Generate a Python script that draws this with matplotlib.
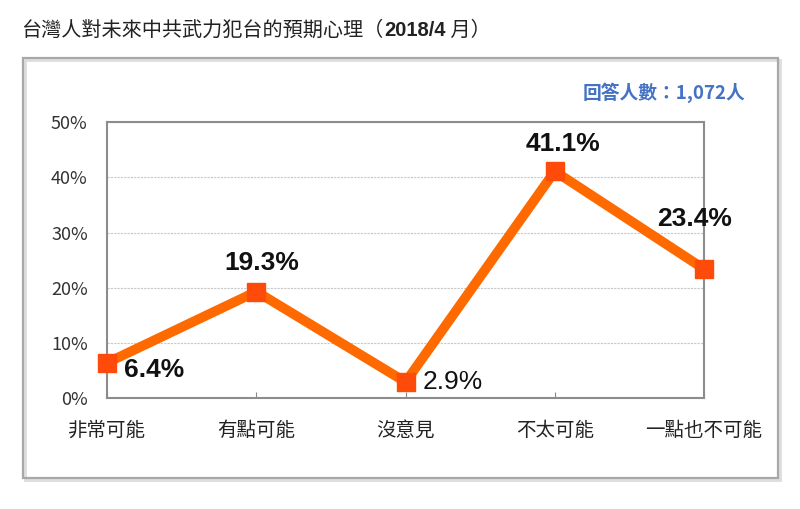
import matplotlib
matplotlib.use('Agg')
import matplotlib.pyplot as plt
from matplotlib.patches import Rectangle

# Data
categories = ['非常可能', '有點可能', '沒意見', '不太可能', '一點也不可能']
values = [6.4, 19.3, 2.9, 41.1, 23.4]
yticks = [0, 10, 20, 30, 40, 50]
title_a = '台灣人對未來中共武力犯台的預期心理（'
title_b = '2018/4'
title_c = ' 月）'
note = '回答人數：1,072人'

cjk = ['Noto Sans CJK TC', 'DejaVu Sans']
num = ['Liberation Sans', 'Noto Sans CJK TC']
plt.rcParams['font.family'] = cjk

fig = plt.figure(figsize=(8, 5.09), dpi=100)

# outer frame (light shadow + grey border)
fig.patches.append(Rectangle((0.031, 0.057), 0.944, 0.825, transform=fig.transFigure,
                             fill=False, edgecolor='#dddddd', lw=2, zorder=0))
fig.patches.append(Rectangle((0.029, 0.061), 0.944, 0.825, transform=fig.transFigure,
                             fill=False, edgecolor='#a8a8a8', lw=1.6, zorder=1))

ax = fig.add_axes([0.134, 0.218, 0.746, 0.542])
x = list(range(len(categories)))
ax.plot(x, values, color='#ff6a00', lw=7, marker='s', markersize=13,
        markerfacecolor='#ff4b0a', markeredgecolor='#ff4b0a',
        clip_on=False, zorder=3)

ax.set_xlim(0, 4)
ax.set_ylim(0, 50)
ax.set_yticks(yticks)
ax.set_yticklabels(['%d%%' % v for v in yticks], fontsize=13, color='#333333')
ax.set_xticks(x)
ax.set_xticklabels(categories, fontsize=14, color='#222222')
ax.tick_params(axis='y', length=0, pad=14)
ax.tick_params(axis='x', direction='in', length=4, color='#888888', pad=16)
for s in ax.spines.values():
    s.set_color('#8c8c8c')
    s.set_linewidth(1.5)
ax.yaxis.grid(True, color='#c8c8c8', linestyle=(0, (2, 1)), lw=0.8)
ax.set_axisbelow(True)

# data labels
offsets = [(12, -5, 'left', 'center', 'bold'),
           (4, 12, 'center', 'bottom', 'bold'),
           (12, 0, 'left', 'center', 'normal'),
           (6, 11, 'center', 'bottom', 'bold'),
           (-7, 27, 'center', 'bottom', 'bold')]
for xi, v, (dx, dy, ha, va, w) in zip(x, values, offsets):
    ax.annotate('%.1f%%' % v, (xi, v), xytext=(dx, dy), textcoords='offset points',
                ha=ha, va=va, fontsize=19, fontweight=w, family=num, color='#111111')

# title
t1 = fig.text(0.028, 0.94, title_a, fontsize=14.5, color='#222222', va='center')
a2 = ax.annotate(title_b, xy=(1, 0.5), xycoords=t1, va='center', ha='left',
                 fontsize=14.5, fontweight='bold', family=num, color='#222222',
                 annotation_clip=False)
ax.annotate(title_c, xy=(1, 0.5), xycoords=a2, va='center', ha='left',
            fontsize=14.5, color='#222222', annotation_clip=False)

fig.text(0.932, 0.818, note, fontsize=13.5, color='#4472c4', ha='right', va='center',
         fontweight='bold')

fig.savefig('out.png', dpi=100)
